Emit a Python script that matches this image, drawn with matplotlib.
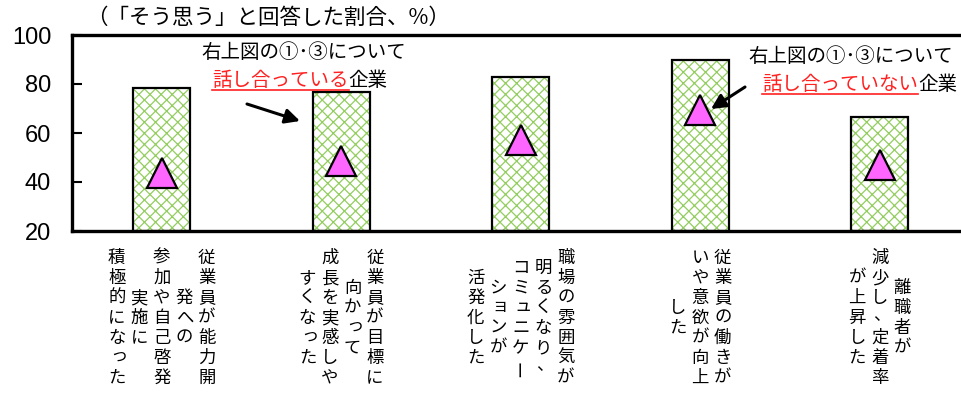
import matplotlib
matplotlib.use("Agg")
import matplotlib.pyplot as plt
from matplotlib.lines import Line2D

# ---- data ----
categories = [
    "従業員が能力開発への参加や自己啓発の実施に積極的になった",
    "従業員が目標に向かって成長を実感しやすくなった",
    "職場の雰囲気が明るくなり、コミュニケーションが活発化した",
    "従業員の働きがいや意欲が向上した",
    "離職者が減少し、定着率が上昇した",
]
label_columns = [
    ["従業員が能力開", "発への", "参加や自己啓発", "実施に", "積極的になった"],
    ["従業員が目標に", "向かって", "成長を実感しや", "すくなった"],
    ["職場の雰囲気が", "明るくなり、", "コミュニケー", "ションが", "活発化した"],
    ["従業員の働きが", "いや意欲が向上", "した"],
    ["離職者が", "減少し、定着率", "が上昇した"],
]
talking_yes = [78.4, 76.8, 83, 89.8, 66.5]   # bars
talking_no = [43.5, 48.5, 57.3, 69.4, 47]   # triangles
yticks = [20, 40, 60, 80, 100]

W, H = 961, 396
fig = plt.figure(figsize=(W / 100, H / 100), dpi=100)
plt.rcParams['hatch.linewidth'] = 0.9
plt.rcParams['hatch.color'] = '#93CD60'

cjk = ['Noto Sans CJK JP', 'DejaVu Sans']

ax_left, ax_right_px = 72, 72 + 5 * 179.5
ax_top, ax_bot = 35, 231
ax = fig.add_axes([ax_left / W, 1 - ax_bot / H, (ax_right_px - ax_left) / W, (ax_bot - ax_top) / H])

x = list(range(len(categories)))
ax.bar(x, [v - 20 for v in talking_yes], bottom=20, width=0.32, facecolor='white',
       edgecolor='#93CD60', hatch='xxx', linewidth=0, zorder=2)
ax.bar(x, [v - 20 for v in talking_yes], bottom=20, width=0.32, facecolor='none',
       edgecolor='black', linewidth=1.6, zorder=3)
ax.plot(x, talking_no, linestyle='none', marker='^', markersize=21,
        markerfacecolor='#FF66FF', markeredgecolor='black', markeredgewidth=1.6, zorder=4)

ax.set_xlim(-0.5, 4.5)
ax.set_ylim(20, 100)
ax.set_yticks(yticks)
ax.set_yticklabels([str(t) for t in yticks], fontfamily='Liberation Sans', fontsize=17)
ax.tick_params(axis='y', direction='in', length=7, width=1.5, pad=15)
ax.set_xticks([])
for s in ['top', 'bottom', 'left', 'right']:
    ax.spines[s].set_linewidth(2.4)

# vertical category labels (columns right-to-left, each column centered)
px2pt = 0.72
col_step, row_step = 22.5, 20.0
block_center_below = 87
for i, cols in enumerate(label_columns):
    m = len(cols)
    for j, col in enumerate(cols):
        dx = ((m - 1) / 2 - j) * col_step
        n = len(col)
        for k, ch in enumerate(col):
            dy = -block_center_below - (k - (n - 1) / 2) * row_step
            rot = 0
            ddx, ddy = 0, 0
            if ch == 'ー':
                rot = 90
            if ch == '、':
                ddx, ddy = 2, 3
            if ch in 'っゃゅょッャュョ':
                ddx, ddy = 2, 2
            ax.annotate(ch, xy=(i, 0), xycoords=('data', 'axes fraction'),
                        xytext=((dx + ddx) * px2pt, (dy + ddy) * px2pt), textcoords='offset points',
                        ha='center', va='center', fontsize=12.5, family=cjk, rotation=rot,
                        annotation_clip=False)

# subtitle
fig.text(86 / W, 1 - 18 / H, "（「そう思う」と回答した割合、%）", family=cjk, fontsize=15.5,
         ha='left', va='center')

# annotations
FS = 14
def two_color(xl, yc, red, black, fs=FS):
    t1 = fig.text(xl / W, 1 - yc / H, red, color='#FF2020', family=cjk, fontsize=fs,
                  ha='left', va='center')
    fig.canvas.draw()
    bb = t1.get_window_extent()
    fig.text(bb.x1 / W, 1 - yc / H, black, color='black', family=cjk, fontsize=fs,
             ha='left', va='center')
    uy = bb.y0 + 1
    fig.add_artist(Line2D([bb.x0 / W, bb.x1 / W], [uy / H, uy / H], color='#FF2020', lw=1.2,
                          transform=fig.transFigure))

fig.text(304 / W, 1 - 52 / H, "右上図の①･③について", family=cjk, fontsize=FS,
         ha='center', va='center')
two_color(212, 80, "話し合っている", "企業")
fig.text(748 / W, 1 - 57 / H, "右上図の①･③について", family=cjk, fontsize=FS,
         ha='left', va='center')
two_color(762, 84, "話し合っていない", "企業")

ap = dict(arrowstyle='-|>', lw=2.2, color='black', mutation_scale=22, shrinkA=0, shrinkB=0)
fig.add_artist(plt.Annotation('', xy=(300, H - 121), xytext=(247, H - 104),
                              xycoords='figure pixels', textcoords='figure pixels', arrowprops=ap))
fig.add_artist(plt.Annotation('', xy=(711, H - 109), xytext=(745, H - 87),
                              xycoords='figure pixels', textcoords='figure pixels', arrowprops=ap))

fig.savefig('out.png', dpi=100)
